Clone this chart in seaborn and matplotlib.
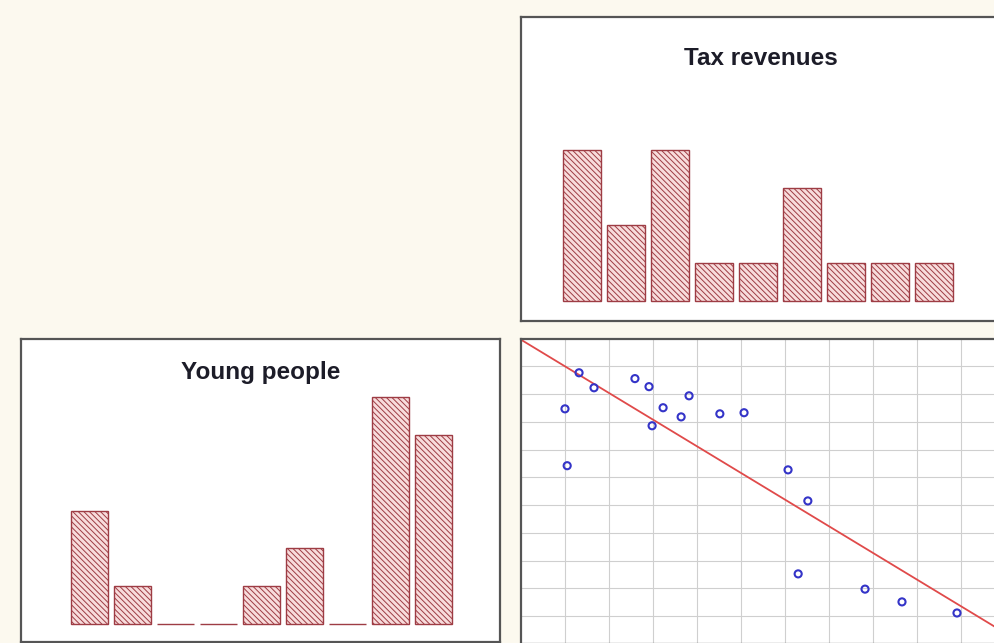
"""Two hatched histograms and a scatter with its fitted line, on a cream page."""

import matplotlib

matplotlib.use("Agg")
import matplotlib.pyplot as plt
import numpy as np
import pandas as pd
import seaborn as sns

# --- data ---
bins = ["1", "2", "3", "4", "5", "6", "7", "8", "9"]
tax_counts = [4, 2, 4, 1, 1, 3, 1, 1, 1]
young_counts = [3, 1, 0, 0, 1, 2, 0, 6, 5]

scatter_x = [1.32, 1.66, 1.00, 1.05, 2.59, 2.91, 3.82, 3.23, 3.64,
             2.98, 4.52, 5.07, 6.07, 6.52, 6.30, 7.82, 8.66, 9.91]
scatter_y = [9.77, 9.23, 8.47, 6.42, 9.56, 9.27, 8.94, 8.51, 8.18,
             7.86, 8.29, 8.33, 6.27, 5.15, 2.52, 1.97, 1.51, 1.11]

PAGE = "#fcf9ef"
FRAME = "#555555"
BAR_FACE = "#f8dcdc"
BAR_EDGE = "#9e3c44"
TITLE_COLOR = "#1c1c28"

sns.set_style("white")
plt.rcParams["font.family"] = ["Liberation Sans", "DejaVu Sans"]
plt.rcParams["hatch.linewidth"] = 0.7

fig = plt.figure(figsize=(9.95, 6.43), dpi=100, facecolor=PAGE)


def frame(ax):
    for spine in ax.spines.values():
        spine.set_visible(True)
        spine.set_color(FRAME)
        spine.set_linewidth(1.6)
    ax.set_facecolor("white")
    ax.set_xticks([])
    ax.set_yticks([])
    ax.set_xlabel("")
    ax.set_ylabel("")


def hatched_hist(ax, counts, title, xlim, ylim, title_y):
    df = pd.DataFrame({"bin": bins, "count": counts})
    sns.barplot(
        data=df, x="bin", y="count", order=bins, ax=ax,
        color=BAR_FACE, saturation=1, width=0.86, errorbar=None,
        edgecolor=BAR_EDGE, linewidth=1.0, hatch="\\" * 6,
    )
    ax.set_xlim(*xlim)
    ax.set_ylim(*ylim)
    frame(ax)
    ax.text(0.5, title_y, title, transform=ax.transAxes, ha="center", va="center",
            fontsize=17.5, fontweight="bold", color=TITLE_COLOR)


# top-right: Tax revenues
ax_tax = fig.add_axes([0.5236, 0.5008, 0.4814, 0.4728])
hatched_hist(ax_tax, tax_counts, "Tax revenues", (-1.39, 9.5), (-0.53, 7.51), 0.865)

# bottom-left: Young people
ax_young = fig.add_axes([0.0211, 0.0016, 0.4814, 0.4712])
hatched_hist(ax_young, young_counts, "Young people", (-1.59, 9.55), (-0.48, 7.54), 0.891)

# bottom-right: scatter with least-squares line
ax_sc = fig.add_axes([0.5236, -0.0012, 0.4864, 0.4745])
ax_sc.set_xlim(0, 11)
ax_sc.set_ylim(0, 11)
sns.regplot(
    x=np.array(scatter_x), y=np.array(scatter_y), ax=ax_sc, ci=None, truncate=False,
    scatter_kws={"s": 26, "facecolors": "none", "edgecolors": "#3434c8",
                 "linewidths": 1.5, "alpha": 1, "zorder": 3},
    line_kws={"color": "#e04a4a", "linewidth": 1.3, "zorder": 2},
)
ax_sc.set_xlim(0, 11)
ax_sc.set_ylim(0, 11)
frame(ax_sc)
ax_sc.set_xticks(range(1, 11))
ax_sc.set_yticks(range(1, 11))
ax_sc.tick_params(length=0, labelbottom=False, labelleft=False)
ax_sc.grid(True, color="#cfcfcf", linewidth=0.8)
ax_sc.set_axisbelow(True)

fig.savefig("out.png", dpi=100, facecolor=PAGE)
